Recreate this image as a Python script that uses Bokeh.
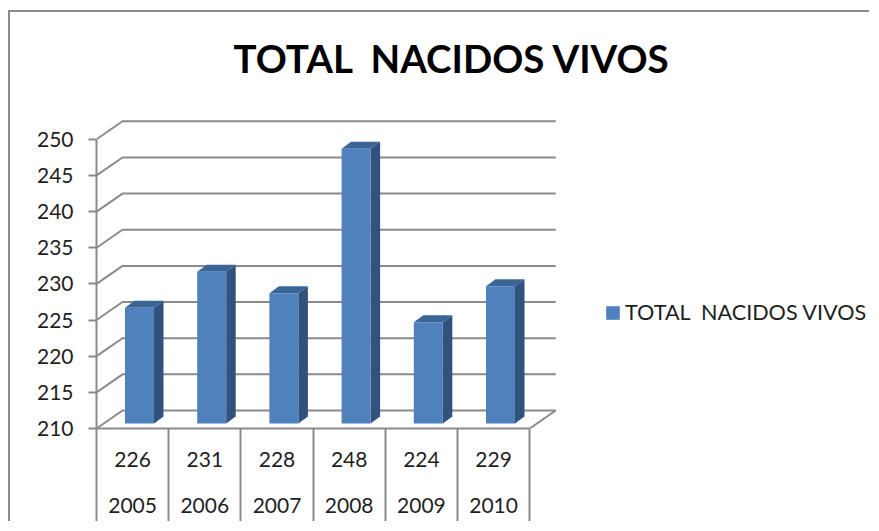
from bokeh.plotting import figure
from bokeh.embed import file_html
from bokeh.resources import INLINE
from bokeh.models import (Range1d, FixedTicker, LinearAxis, Legend, LegendItem)

years = ["2005", "2006", "2007", "2008", "2009", "2010"]
values = [226, 231, 228, 248, 224, 229]
y_ticks = [210, 215, 220, 225, 230, 235, 240, 245, 250]
title_text = "TOTAL\u00a0\u00a0NACIDOS VIVOS"
series_name = "TOTAL  NACIDOS VIVOS"

FONT = "Lato"
GRAY = "#8a8a8a"
INK = "#1f1f1f"
FRONT, SIDE, TOP = "#4f81bd", "#31527c", "#3a6596"

# canvas origin inside the picture (border + margin)
OX, OY = 10, 12
W, H = 861, 511
PX_X = 72.2          # px per category
PX_Y = 7.23          # px per y unit
FRAME_L, FRAME_R, FRAME_T, FRAME_B = 96, OX + W, 100, 428
WALL_DX, WALL_DY = 26 / PX_X, 18 / PX_Y
BAR_L, BAR_W = 28.5 / PX_X, 29 / PX_X
BAR_DX, BAR_DY = 9.5 / PX_X, 7 / PX_Y
BAR_LIFT = 5 / PX_Y
BASE = y_ticks[0]
n = len(years)

p = figure(width=W, height=H, output_backend="svg", toolbar_location=None,
           x_range=Range1d(0, (FRAME_R - FRAME_L) / PX_X),
           y_range=Range1d(BASE, BASE + (FRAME_B - FRAME_T) / PX_Y),
           x_axis_type=None, y_axis_type=None,
           min_border_left=FRAME_L - OX, min_border_right=0,
           min_border_top=FRAME_T - OY, min_border_bottom=H + OY - FRAME_B,
           background_fill_color="white", border_fill_color="white",
           outline_line_color=None, title=title_text)
p.grid.visible = False
p.margin = (OY - 2, 0, 0, OX - 2)
p.styles = {"border-left": f"2px solid {GRAY}", "border-top": f"2px solid {GRAY}"}

p.title.text_font = FONT
p.title.text_font_style = "bold"
p.title.text_font_size = "38.5px"
p.title.text_color = "#000000"
p.title.align = "left"
p.title.offset = 137
p.title.standoff = 40

# value axis
yaxis = LinearAxis(ticker=FixedTicker(ticks=y_ticks), bounds=(y_ticks[0], y_ticks[-1]),
                   axis_line_color=GRAY, axis_line_width=2,
                   major_tick_line_color=GRAY, major_tick_line_width=2,
                   major_tick_out=8, major_tick_in=0, minor_tick_out=0, minor_tick_in=0,
                   major_label_text_font=FONT, major_label_text_font_size="21px",
                   major_label_text_color=INK, major_label_standoff=15)
p.add_layout(yaxis, "left")

# data-table axes under the chart
centers = [i + 0.5 for i in range(n)]
edges = list(range(n + 1))
axis_vals = LinearAxis(ticker=FixedTicker(ticks=centers, minor_ticks=edges),
                       major_label_overrides={c: str(v) for c, v in zip(centers, values)},
                       axis_line_color=GRAY, axis_line_width=2, bounds=(0, n),
                       major_tick_out=0, major_tick_in=0, major_tick_line_color=None,
                       minor_tick_out=93, minor_tick_in=0,
                       minor_tick_line_color=GRAY, minor_tick_line_width=2,
                       major_label_text_font=FONT, major_label_text_font_size="21px",
                       major_label_text_color=INK, major_label_standoff=-70)
axis_years = LinearAxis(ticker=FixedTicker(ticks=centers),
                        major_label_overrides={c: y for c, y in zip(centers, years)},
                        axis_line_color=None, major_tick_line_color=None, minor_tick_line_color=None,
                        major_tick_out=0, major_tick_in=0, minor_tick_out=0,
                        major_label_text_font=FONT, major_label_text_font_size="21px",
                        major_label_text_color=INK, major_label_standoff=28)
p.add_layout(axis_vals, "below")
p.add_layout(axis_years, "below")

# walls: one gridline per tick, plus the floor outline
grid_xs = [[0, WALL_DX, n + WALL_DX] for _ in y_ticks]
grid_ys = [[t, t + WALL_DY, t + WALL_DY] for t in y_ticks]
grid_xs.append([n + WALL_DX, n])
grid_ys.append([BASE + WALL_DY, BASE])
p.multi_line(grid_xs, grid_ys, line_color=GRAY, line_width=2)

# 3-D columns
lefts = [i + BAR_L for i in range(n)]
rights = [l + BAR_W for l in lefts]
bottoms = [BASE + BAR_LIFT] * n
tops = [v + BAR_LIFT for v in values]

side_xs = [[r, r + BAR_DX, r + BAR_DX, r] for r in rights]
side_ys = [[b, b + BAR_DY, t + BAR_DY, t] for b, t in zip(bottoms, tops)]
top_xs = [[l, l + BAR_DX, r + BAR_DX, r] for l, r in zip(lefts, rights)]
top_ys = [[t, t + BAR_DY, t + BAR_DY, t] for t in tops]
p.patches(side_xs, side_ys, fill_color=SIDE, line_color=None)
p.patches(top_xs, top_ys, fill_color=TOP, line_color=None)
bars = p.quad(left=lefts, right=rights, bottom=bottoms, top=tops,
              fill_color=FRONT, line_color=None)

legend = Legend(items=[LegendItem(label=series_name, renderers=[bars])],
                location=(508, 103), border_line_color=None, background_fill_alpha=0,
                margin=0, padding=0, glyph_width=17, glyph_height=17, label_standoff=4,
                label_text_font=FONT, label_text_font_size="21.6px", label_text_color=INK)
p.add_layout(legend, "center")

open("out.html", "w").write(file_html(p, INLINE))
